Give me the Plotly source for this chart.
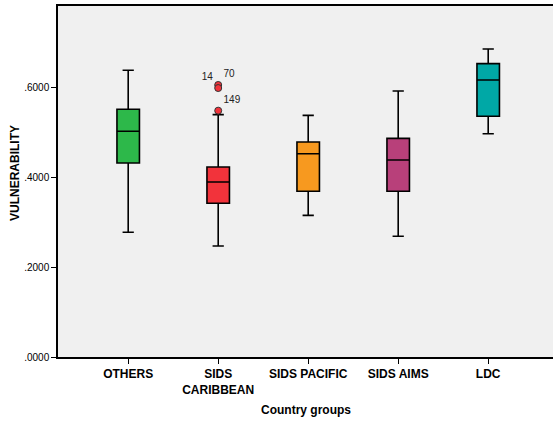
import plotly.graph_objects as go

categories = ["OTHERS", "SIDS<br>CARIBBEAN", "SIDS PACIFIC", "SIDS AIMS", "LDC"]
lower_whisker = [0.2777, 0.2472, 0.3155, 0.2688, 0.4973]
q1 = [0.4320, 0.3423, 0.3690, 0.3690, 0.5360]
median = [0.5026, 0.3898, 0.4528, 0.4388, 0.6169]
q3 = [0.5517, 0.4232, 0.4788, 0.4870, 0.6533]
upper_whisker = [0.6385, 0.5397, 0.5382, 0.5924, 0.6860]
colors = ["#2db84a", "#f2333b", "#f7991f", "#b8407a", "#00a8a6"]

outlier_group = "SIDS<br>CARIBBEAN"
outlier_values = [0.6058, 0.5990, 0.5486]
outlier_labels = ["70", "14", "149"]
outlier_textpos = ["top right", "top left", "top right"]

y_tickvals = [0.0, 0.2, 0.4, 0.6]
y_ticktext = [".0000", ".2000", ".4000", ".6000"]

x_title = "Country groups"
y_title = "VULNERABILITY"

fig = go.Figure()
for i, cat in enumerate(categories):
    fig.add_trace(go.Box(
        x=[cat], q1=[q1[i]], median=[median[i]], q3=[q3[i]],
        lowerfence=[lower_whisker[i]], upperfence=[upper_whisker[i]],
        fillcolor=colors[i], line=dict(color="black", width=1.6),
        width=0.25, whiskerwidth=0.5, boxpoints=False, hoverinfo="skip",
        showlegend=False,
    ))

fig.add_trace(go.Scatter(
    x=[outlier_group] * len(outlier_values), y=outlier_values,
    mode="markers+text", text=outlier_labels, textposition=outlier_textpos,
    textfont=dict(family="Arial, Liberation Sans", size=10, color="#222222"),
    marker=dict(color="#f2333b", size=7, line=dict(color="#333333", width=1)),
    showlegend=False, hoverinfo="skip", cliponaxis=False,
))

fig.update_layout(
    width=553, height=421,
    margin=dict(l=58, r=0, t=6, b=64),
    paper_bgcolor="white", plot_bgcolor="#f0f0f0",
    font=dict(family="Arial, Liberation Sans", color="black"),
    showlegend=False,
    annotations=[
        dict(text="<b>" + x_title + "</b>", xref="paper", yref="paper",
             x=0.5, y=-0.151, xanchor="center", yanchor="middle",
             showarrow=False, font=dict(size=12, color="black")),
        dict(text="<b>" + y_title + "</b>", xref="paper", yref="paper",
             x=-0.087, y=0.524, xanchor="center", yanchor="middle",
             textangle=-90, showarrow=False, font=dict(size=12, color="black")),
    ],
)
fig.update_xaxes(
    type="category", categoryorder="array", categoryarray=categories,
    range=[-0.78, 4.72], automargin=False,
    showline=True, linecolor="black", linewidth=1.5, mirror=True,
    ticks="outside", ticklen=5, tickcolor="black",
    tickvals=categories, ticktext=["<b>" + c + "</b>" for c in categories],
    tickfont=dict(size=12, color="black"),
    showgrid=False, zeroline=False,
)
fig.update_yaxes(
    range=[0, 0.7817], automargin=False,
    tickvals=y_tickvals, ticktext=y_ticktext,
    showline=True, linecolor="black", linewidth=1.5,
    ticks="outside", ticklen=5, tickcolor="black",
    tickfont=dict(size=10, color="black"),
    showgrid=False, zeroline=False,
)

fig.write_html(
    "out.html",
    config={"displayModeBar": False},
    post_script="document.body.style.margin='0';document.body.style.padding='0';",
)
